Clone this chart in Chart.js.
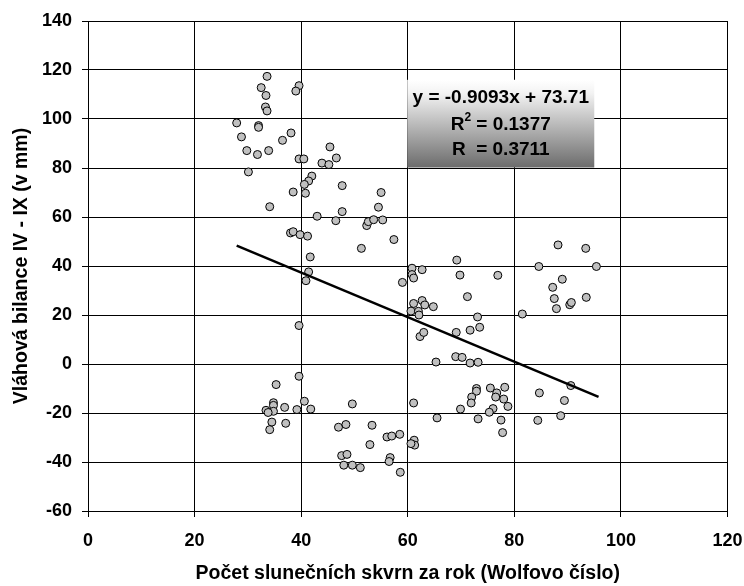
<!DOCTYPE html>
<html>
<head>
<meta charset="utf-8">
<script src="https://cdn.jsdelivr.net/npm/chart.js@4.4.1/dist/chart.umd.min.js"></script>
<style>
  html, body { margin: 0; padding: 0; background: #fff; }
</style>
</head>
<body>
<canvas id="chart" width="744" height="586"></canvas>
<script>
// sunspot number (Wolf number) per year
const sunspots = [
  33.6, 32.5, 33.4, 33.3, 33.6, 39.6, 39.0, 27.9, 32.0, 32.0,
  28.8, 38.1, 36.5, 29.8, 31.8, 33.9, 45.4, 46.6, 39.6, 40.5,
  43.9, 45.2, 30.1, 42.0, 41.4, 40.6, 47.7, 38.5, 40.8, 55.0,
  54.5, 34.1, 43.0, 47.7, 46.5, 52.3, 52.6, 53.6, 55.3, 38.0,
  38.5, 39.8, 41.2, 57.4, 51.3, 41.7, 41.4, 40.9, 60.8, 60.8,
  61.1, 59.0, 61.1, 60.6, 39.6, 62.3, 39.6, 35.3, 62.7, 88.2,
  93.4, 69.2, 69.8, 76.9, 84.6, 95.4, 89.0, 87.2, 87.5, 87.9,
  90.4, 90.7, 93.5, 71.2, 81.5, 62.7, 63.2, 64.8, 62.0, 62.1,
  73.1, 63.0, 69.1, 71.7, 73.5, 69.0, 70.2, 65.3, 71.7, 73.2,
  90.6, 84.7, 89.4, 88.7, 84.4, 72.9, 72.9, 72.0, 71.9, 75.5,
  76.7, 78.2, 76.5, 78.0, 78.8, 76.0, 75.3, 69.9, 65.5, 73.2,
  77.5, 61.1, 77.8, 34.8, 34.8, 34.8, 33.4, 33.8, 36.9, 39.2,
  40.6, 41.8, 34.5, 34.1, 37.1, 49.6, 47.0, 48.4, 53.3, 52.9,
  56.1, 57.0, 58.5, 47.6, 48.6, 48.0, 49.6, 51.1, 56.7, 56.5,
  58.6, 61.2, 61.3, 60.6
];

// water balance IV - IX (mm)
const balance = [
  117.4, 112.8, 109.6, 104.9, 103.3, 113.6, 111.4, 98.4, 97.3, 96.6,
  92.7, 94.3, 91.3, 87.1, 85.5, 87.1, 88.6, 84.1, 83.7, 83.7,
  82.0, 81.4, 78.4, 76.7, 74.7, 73.3, 72.8, 70.2, 69.7, 70.0,
  64.0, 64.2, 60.3, 62.2, 58.5, 56.5, 58.1, 58.9, 58.8, 53.5,
  54.0, 52.8, 52.2, 50.8, 47.2, 43.7, 37.6, 34.0, 39.1, 36.5,
  35.1, 33.3, 24.7, 21.6, 15.7, 11.2, -5.0, -8.4, 38.5, 48.6,
  47.2, 42.4, 36.3, 36.2, 39.8, 39.8, 34.6, 31.3, 26.7, 22.6,
  24.2, 25.1, 27.2, 27.5, 20.4, 25.9, 24.1, 23.4, 21.5, 20.0,
  19.2, 12.9, 12.9, 13.8, 15.0, 3.0, 2.7, 0.8, 0.4, 0.7,
  -8.8, -11.8, -14.9, -21.1, -23.0, -10.0, -11.1, -13.5, -15.9, -9.8,
  -11.8, -9.5, -13.5, -14.3, -17.3, -18.2, -19.7, -18.4, -22.0, -22.4,
  -22.9, -15.9, -28.0, -15.8, -16.9, -19.3, -18.9, -19.8, -17.7, -18.6,
  -15.2, -18.4, -23.7, -26.8, -24.2, -16.3, -25.8, -24.7, -25.0, -32.9,
  -29.8, -29.4, -28.7, -37.4, -36.9, -41.3, -41.3, -42.3, -38.2, -39.8,
  -44.2, -31.1, -33.1, -32.5
];

// linear trend end points
const trendX = [27.9, 95.8];
const trendY = [48.3, -13.4];

const equationLines = ["y = -0.9093x + 73.71", "R", " = 0.1377", "R  = 0.3711"];

const xTitle = "Počet slunečních skvrn za rok (Wolfovo číslo)";
const yTitle = "Vláhová bilance IV - IX (v mm)";

const fontFamily = "'Liberation Sans', Arial, sans-serif";
Chart.defaults.font.family = fontFamily;
Chart.defaults.color = "#000";

// gradient box with the regression equation
const equationBox = {
  id: "equationBox",
  afterDraw(chart) {
    const c = chart.ctx;
    const xs = chart.scales.x, ys = chart.scales.y;
    const left = xs.getPixelForValue(59.9);
    const right = xs.getPixelForValue(95.0);
    const top = ys.getPixelForValue(116);
    const bottom = ys.getPixelForValue(80.2);
    const h = bottom - top;
    c.save();
    const g = c.createLinearGradient(0, top, 0, bottom);
    g.addColorStop(0, "#ffffff");
    g.addColorStop(0.15, "#f3f3f3");
    g.addColorStop(1, "#6c6c6c");
    c.fillStyle = g;
    c.fillRect(left, top, right - left, h);

    const cx = (left + right) / 2;
    c.fillStyle = "#000";
    c.textBaseline = "middle";
    c.font = "bold 19px " + fontFamily;
    c.textAlign = "center";
    c.fillText(equationLines[0], cx, top + 18);

    // R² line with a small raised 2
    c.textAlign = "left";
    const wR = c.measureText(equationLines[1]).width;
    const wRest = c.measureText(equationLines[2]).width;
    c.font = "bold 12px " + fontFamily;
    const w2 = c.measureText("2").width;
    const start = cx - (wR + w2 + wRest) / 2;
    c.font = "bold 19px " + fontFamily;
    c.fillText(equationLines[1], start, top + 44.5);
    c.fillText(equationLines[2], start + wR + w2, top + 44.5);
    c.font = "bold 12px " + fontFamily;
    c.fillText("2", start + wR, top + 38);

    c.font = "bold 19px " + fontFamily;
    c.textAlign = "center";
    c.fillText(equationLines[3], cx, top + 70);
    c.restore();
  }
};

const ctx = document.getElementById("chart").getContext("2d");

const points = sunspots.map((x, i) => ({ x: x, y: balance[i] }));
const trend = trendX.map((x, i) => ({ x: x, y: trendY[i] }));

new Chart(ctx, {
  type: "scatter",
  data: {
    datasets: [
      {
        type: "line",
        data: trend,
        borderColor: "#000",
        borderWidth: 2.5,
        pointRadius: 0,
        fill: false,
        order: 0
      },
      {
        data: points,
        pointRadius: 4,
        pointHoverRadius: 4,
        backgroundColor: "#c0c0c0",
        borderColor: "#000",
        borderWidth: 1,
        order: 1
      }
    ]
  },
  options: {
    responsive: false,
    animation: false,
    layout: { padding: { top: 21, right: 16.5, left: 0, bottom: 0 } },
    plugins: { legend: { display: false }, tooltip: { enabled: false } },
    scales: {
      x: {
        type: "linear",
        min: 0,
        max: 120,
        ticks: { stepSize: 20, padding: 13, font: { size: 18, weight: "bold" }, color: "#000" },
        grid: { color: "#000", lineWidth: 1, tickLength: 6 },
        border: { color: "#000", width: 1 },
        title: { display: true, text: xTitle, color: "#000", font: { size: 19.5, weight: "bold" }, padding: { top: 0, bottom: 1 } },
        afterFit: s => { s.height = 75; s.paddingLeft = 0; s.paddingRight = 0; }
      },
      y: {
        type: "linear",
        min: -60,
        max: 140,
        ticks: { stepSize: 20, padding: 10, font: { size: 18, weight: "bold" }, color: "#000" },
        grid: { color: "#000", lineWidth: 1, tickLength: 6 },
        border: { color: "#000", width: 1 },
        title: { display: true, text: yTitle, color: "#000", font: { size: 19.5, weight: "bold" }, padding: { top: 10, bottom: 0 } },
        afterFit: s => { s.width = 88; s.paddingTop = 0; s.paddingBottom = 0; }
      }
    }
  },
  plugins: [equationBox]
});
</script>
</body>
</html>
